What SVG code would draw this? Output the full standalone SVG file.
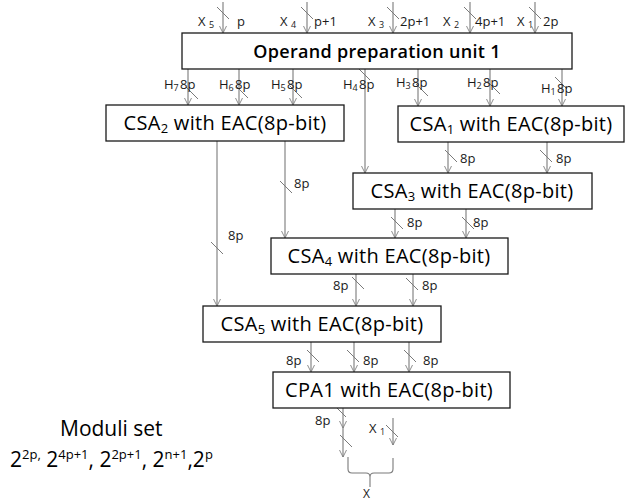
<svg xmlns="http://www.w3.org/2000/svg" width="626" height="502" viewBox="0 0 626 502">
  <style>
    .box { fill: #ffffff; stroke: #1a1a1a; stroke-width: 1.3; }
    .title { font-family: "Open Sans", "Liberation Sans", sans-serif; font-size: 20px; letter-spacing: 0.3px; fill: #000; text-anchor: middle; }
    .wire { stroke: #7a7a7a; stroke-width: 1.1; fill: none; }
    .tick { stroke: #7a7a7a; stroke-width: 1; fill: none; }
    .lbl { font-family: "Open Sans", "Liberation Sans", sans-serif; font-size: 13px; fill: #1a1a1a; }
    .sub { font-size: 9px; }
    .note { font-family: "Open Sans", "Liberation Sans", sans-serif; font-size: 21px; fill: #000; }
  </style>
  <defs>
    <marker id="arrow" viewBox="0 0 10 10" refX="10" refY="5" markerWidth="7" markerHeight="10" markerUnits="userSpaceOnUse" orient="auto">
      <path d="M0,0 L10,5 L0,10" fill="none" stroke="#7a7a7a" stroke-width="1.2"/>
    </marker>
    <path id="slash" d="M-6,-6 L6,6"/>
  </defs>
  <rect width="626" height="502" fill="#ffffff"/>

  <!-- connectors -->
  <g id="connectors">
    <!-- inputs into the operand preparation unit -->
    <line class="wire" x1="223" y1="2" x2="223" y2="33" marker-end="url(#arrow)"/>
    <line class="wire" x1="307" y1="2" x2="307" y2="33" marker-end="url(#arrow)"/>
    <line class="wire" x1="393" y1="2" x2="393" y2="33" marker-end="url(#arrow)"/>
    <line class="wire" x1="470" y1="2" x2="470" y2="33" marker-end="url(#arrow)"/>
    <line class="wire" x1="535" y1="2" x2="535" y2="33" marker-end="url(#arrow)"/>
    <use href="#slash" class="tick" x="223" y="13"/>
    <use href="#slash" class="tick" x="307" y="13"/>
    <use href="#slash" class="tick" x="393" y="13"/>
    <use href="#slash" class="tick" x="470" y="13"/>
    <use href="#slash" class="tick" x="535" y="13"/>

    <!-- H outputs -->
    <line class="wire" x1="188" y1="69" x2="188" y2="105" marker-end="url(#arrow)"/>
    <line class="wire" x1="239" y1="69" x2="239" y2="105" marker-end="url(#arrow)"/>
    <line class="wire" x1="293" y1="69" x2="293" y2="105" marker-end="url(#arrow)"/>
    <line class="wire" x1="365" y1="69" x2="365" y2="173" marker-end="url(#arrow)"/>
    <line class="wire" x1="418" y1="69" x2="418" y2="106" marker-end="url(#arrow)"/>
    <line class="wire" x1="490" y1="69" x2="490" y2="106" marker-end="url(#arrow)"/>
    <line class="wire" x1="562" y1="69" x2="562" y2="106" marker-end="url(#arrow)"/>
    <use href="#slash" class="tick" x="192" y="93"/>
    <use href="#slash" class="tick" x="242" y="92"/>
    <use href="#slash" class="tick" x="296" y="92"/>
    <use href="#slash" class="tick" x="364" y="74"/>
    <use href="#slash" class="tick" x="422" y="90"/>
    <use href="#slash" class="tick" x="494" y="88"/>
    <use href="#slash" class="tick" x="561" y="83"/>

    <!-- CSA2 outputs -->
    <line class="wire" x1="217" y1="141" x2="217" y2="306" marker-end="url(#arrow)"/>
    <line class="wire" x1="285" y1="141" x2="285" y2="238" marker-end="url(#arrow)"/>
    <use href="#slash" class="tick" x="217" y="248"/>
    <use href="#slash" class="tick" x="286" y="187"/>

    <!-- CSA1 outputs -->
    <line class="wire" x1="448" y1="142" x2="448" y2="173" marker-end="url(#arrow)"/>
    <line class="wire" x1="547" y1="142" x2="547" y2="173" marker-end="url(#arrow)"/>
    <use href="#slash" class="tick" x="451" y="156"/>
    <use href="#slash" class="tick" x="546" y="156"/>

    <!-- CSA3 outputs -->
    <line class="wire" x1="395" y1="209" x2="395" y2="238" marker-end="url(#arrow)"/>
    <line class="wire" x1="466" y1="209" x2="466" y2="238" marker-end="url(#arrow)"/>
    <use href="#slash" class="tick" x="397" y="223"/>
    <use href="#slash" class="tick" x="468" y="223"/>

    <!-- CSA4 outputs -->
    <line class="wire" x1="356" y1="274" x2="356" y2="306" marker-end="url(#arrow)"/>
    <line class="wire" x1="413" y1="274" x2="413" y2="306" marker-end="url(#arrow)"/>
    <use href="#slash" class="tick" x="358" y="283"/>
    <use href="#slash" class="tick" x="412" y="284"/>

    <!-- CSA5 outputs -->
    <line class="wire" x1="311" y1="342" x2="311" y2="372" marker-end="url(#arrow)"/>
    <line class="wire" x1="354" y1="342" x2="354" y2="372" marker-end="url(#arrow)"/>
    <line class="wire" x1="409" y1="342" x2="409" y2="372" marker-end="url(#arrow)"/>
    <use href="#slash" class="tick" x="313" y="356"/>
    <use href="#slash" class="tick" x="353" y="356"/>
    <use href="#slash" class="tick" x="410" y="356"/>

    <!-- CPA1 output and X1 -->
    <line class="wire" x1="343" y1="408" x2="343" y2="428" marker-end="url(#arrow)"/>
    <line class="wire" x1="343" y1="428" x2="343" y2="457" marker-end="url(#arrow)"/>
    <use href="#slash" class="tick" x="340" y="411"/>
    <use href="#slash" class="tick" x="346" y="441"/>
    <line class="wire" x1="393" y1="418" x2="393" y2="445" marker-end="url(#arrow)"/>
    <use href="#slash" class="tick" x="392" y="431"/>

    <!-- brace joining the two results -->
    <path class="wire" d="M348,457 V469 Q348,473 352,473 H366 Q370,473 370,477 V487 M370,477 Q370,473 374,473 H389 Q393,473 393,469 V458"/>
  </g>

  <!-- connector labels -->
  <g id="labels">
    <text class="lbl" x="198" y="26">X <tspan class="sub" dy="2">5</tspan></text>
    <text class="lbl" x="237" y="26">p</text>
    <text class="lbl" x="280" y="26">X <tspan class="sub" dy="2">4</tspan></text>
    <text class="lbl" x="314" y="26">p+1</text>
    <text class="lbl" x="368" y="26">X <tspan class="sub" dy="2">3</tspan></text>
    <text class="lbl" x="400" y="26">2p+1</text>
    <text class="lbl" x="443" y="26">X <tspan class="sub" dy="2">2</tspan></text>
    <text class="lbl" x="475" y="26">4p+1</text>
    <text class="lbl" x="517" y="26">X <tspan class="sub" dy="2">1</tspan></text>
    <text class="lbl" x="543" y="26">2p</text>

    <text class="lbl" x="164" y="89">H<tspan class="sub" dy="2">7</tspan><tspan x="180" dy="-2">8p</tspan></text>
    <text class="lbl" x="219" y="89">H<tspan class="sub" dy="2">6</tspan><tspan x="235" dy="-2">8p</tspan></text>
    <text class="lbl" x="271" y="89">H<tspan class="sub" dy="2">5</tspan><tspan x="287" dy="-2">8p</tspan></text>
    <text class="lbl" x="343" y="89">H<tspan class="sub" dy="2">4</tspan><tspan x="359" dy="-2">8p</tspan></text>
    <text class="lbl" x="396" y="87">H<tspan class="sub" dy="2">3</tspan><tspan x="412" dy="-2">8p</tspan></text>
    <text class="lbl" x="467" y="87">H<tspan class="sub" dy="2">2</tspan><tspan x="483" dy="-2">8p</tspan></text>
    <text class="lbl" x="541" y="93">H<tspan class="sub" dy="2">1</tspan><tspan x="557" dy="-2">8p</tspan></text>

    <text class="lbl" x="228" y="240">8p</text>
    <text class="lbl" x="294" y="188">8p</text>
    <text class="lbl" x="460" y="163">8p</text>
    <text class="lbl" x="556" y="163">8p</text>
    <text class="lbl" x="407" y="227">8p</text>
    <text class="lbl" x="473" y="227">8p</text>
    <text class="lbl" x="333" y="290">8p</text>
    <text class="lbl" x="422" y="290">8p</text>
    <text class="lbl" x="286" y="365">8p</text>
    <text class="lbl" x="363" y="365">8p</text>
    <text class="lbl" x="423" y="365">8p</text>
    <text class="lbl" x="315" y="425">8p</text>
    <text class="lbl" x="369" y="433">X <tspan class="sub" dy="2">1</tspan></text>
    <text class="lbl" x="363" y="498" style="font-size:12px">X</text>
  </g>

  <!-- processing units -->
  <g id="opu1">
    <rect class="box" x="182" y="33" width="390" height="36"/>
    <text class="title" x="377" y="58" style="font-size:18px;font-weight:600">Operand preparation unit 1</text>
  </g>
  <g id="csa2">
    <rect class="box" x="106" y="105" width="238" height="36"/>
    <text class="title" x="225" y="130">CSA<tspan font-size="13" dy="3">2</tspan><tspan dy="-3"> with EAC(8p-bit)</tspan></text>
  </g>
  <g id="csa1">
    <rect class="box" x="398" y="106" width="226" height="36"/>
    <text class="title" x="511" y="131">CSA<tspan font-size="13" dy="3">1</tspan><tspan dy="-3"> with EAC(8p-bit)</tspan></text>
  </g>
  <g id="csa3">
    <rect class="box" x="353" y="173" width="239" height="36"/>
    <text class="title" x="472" y="198">CSA<tspan font-size="13" dy="3">3</tspan><tspan dy="-3"> with EAC(8p-bit)</tspan></text>
  </g>
  <g id="csa4">
    <rect class="box" x="271" y="238" width="237" height="36"/>
    <text class="title" x="389" y="263">CSA<tspan font-size="13" dy="3">4</tspan><tspan dy="-3"> with EAC(8p-bit)</tspan></text>
  </g>
  <g id="csa5">
    <rect class="box" x="203" y="306" width="238" height="36"/>
    <text class="title" x="322" y="331">CSA<tspan font-size="13" dy="3">5</tspan><tspan dy="-3"> with EAC(8p-bit)</tspan></text>
  </g>
  <g id="cpa1">
    <rect class="box" x="273" y="372" width="237" height="36"/>
    <text class="title" x="389" y="397">CPA1 with EAC(8p-bit)</text>
  </g>

  <!-- moduli set note -->
  <g id="moduli">
    <text class="note" x="60" y="436">Moduli set</text>
    <text class="note" x="10" y="467">2<tspan font-size="13" dy="-8">2p,</tspan><tspan dy="8"> 2</tspan><tspan font-size="13" dy="-8">4p+1</tspan><tspan dy="8">, 2</tspan><tspan font-size="13" dy="-8">2p+1</tspan><tspan dy="8">, 2</tspan><tspan font-size="13" dy="-8">n+1</tspan><tspan dy="8">,2</tspan><tspan font-size="13" dy="-8">p</tspan></text>
  </g>
</svg>
